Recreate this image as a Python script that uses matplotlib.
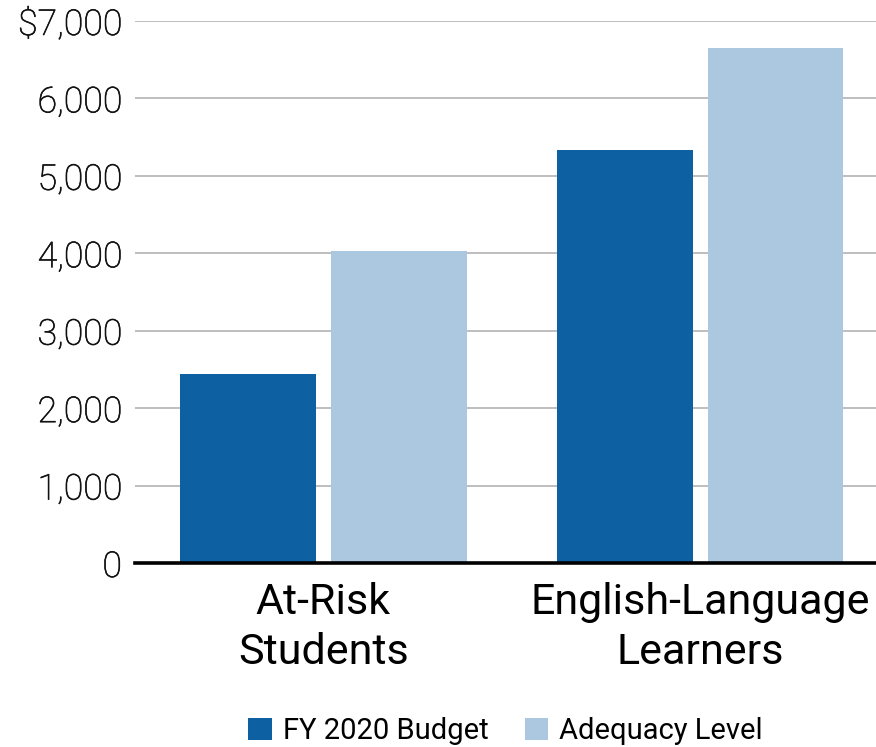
import matplotlib
matplotlib.use("Agg")
import matplotlib.pyplot as plt
import matplotlib.patheffects as pe
import numpy as np

plt.rcParams["font.family"] = ["Roboto", "DejaVu Sans"]

# data
categories = ["At-Risk\nStudents", "English-Language\nLearners"]
series_names = ["FY 2020 Budget", "Adequacy Level"]
budget = [2440, 5335]
adequacy = [4030, 6650]
y_ticks = [0, 1000, 2000, 3000, 4000, 5000, 6000, 7000]
y_tick_labels = ["0", "1,000", "2,000", "3,000", "4,000", "5,000", "6,000", "$7,000"]

DARK = "#0d61a3"
LIGHT = "#abc8e0"

fig = plt.figure(figsize=(8.76, 7.47), dpi=100)
ax = fig.add_axes([135 / 876, (747 - 563) / 747, 1 - 135 / 876, (563 - 21) / 747])

x = np.arange(len(categories))
width = 0.36
offset = 0.2
ax.bar(x - offset, budget, width, color=DARK, label=series_names[0], zorder=2)
ax.bar(x + offset, adequacy, width, color=LIGHT, label=series_names[1], zorder=2)

ax.set_xlim(-0.5, 1.467)
ax.set_ylim(0, 7000)

ax.set_yticks(y_ticks)
ax.set_yticklabels(y_tick_labels, fontsize=25.7, fontweight="light", color="#111111")
# light weight looks a bit too thin, thicken it slightly
for lbl in ax.get_yticklabels():
    lbl.set_path_effects([pe.withStroke(linewidth=0.45, foreground="#111111")])
ax.set_xticks(x)
ax.set_xticklabels(categories, fontsize=31, linespacing=1.3)

ax.tick_params(axis="y", length=0, pad=9.5)
ax.tick_params(axis="x", length=0, pad=13.5)

ax.yaxis.grid(True, color="#b3b3b3", linewidth=1.2)
ax.set_axisbelow(True)

for side in ["top", "right", "left"]:
    ax.spines[side].set_visible(False)
ax.spines["bottom"].set_linewidth(2.6)
ax.spines["bottom"].set_color("black")
ax.spines["bottom"].set_zorder(3)

ax.legend(
    loc="center",
    bbox_to_anchor=(0.5, (731 - 563) / -(563 - 21)),
    ncol=2,
    frameon=False,
    fontsize=21,
    handlelength=0.8,
    handleheight=0.8,
    handletextpad=0.38,
    columnspacing=1.25,
)

fig.savefig("out.png", dpi=100)
